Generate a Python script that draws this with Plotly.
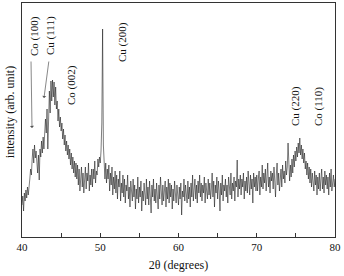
import plotly.graph_objects as go

two_theta_start = 40.0
two_theta_step = 0.1

# intensity (arb. unit), 10 points per degree
intensity = [
    32, 41, 26, 44, 36, 47, 39, 50, 42, 55,      # 40
    58, 68, 62, 78, 88, 74, 92, 79, 86, 75,      # 41
    64, 82, 57, 88, 80, 96, 84, 100, 88, 104,    # 42
    118, 104, 128, 88, 132, 146, 124, 156, 136, 157,  # 43
    140, 155, 132, 150, 128, 136, 116, 128, 110, 120,  # 44
    106, 114, 98, 108, 92, 102, 86, 96, 82, 92,  # 45
    78, 88, 72, 84, 68, 80, 64, 76, 60, 74,      # 46
    58, 72, 52, 68, 46, 62, 70, 50, 64, 44,      # 47
    60, 70, 48, 64, 56, 74, 46, 62, 52, 68,      # 48
    50, 68, 58, 76, 54, 66, 62, 78, 70, 80,      # 49
    74, 86, 114, 208, 92, 70, 58, 74, 54, 68,    # 50
    58, 72, 46, 64, 52, 70, 42, 60, 48, 66,      # 51
    44, 62, 38, 58, 50, 66, 36, 54, 44, 62,      # 52
    40, 58, 34, 52, 46, 62, 38, 50, 30, 56,      # 53
    44, 36, 58, 40, 52, 28, 48, 38, 60, 34,      # 54
    50, 40, 56, 26, 46, 36, 54, 44, 32, 58,      # 55
    38, 50, 32, 56, 44, 24, 52, 40, 58, 36,      # 56
    48, 34, 54, 44, 28, 52, 38, 60, 40, 32,      # 57
    52, 36, 46, 56, 30, 50, 38, 58, 34, 54,      # 58
    40, 52, 28, 48, 36, 56, 44, 34, 52, 38,      # 59
    32, 50, 38, 54, 22, 46, 40, 58, 36, 52,      # 60
    44, 34, 56, 38, 50, 30, 54, 40, 62, 36,      # 61
    48, 58, 38, 52, 34, 56, 44, 62, 40, 54,      # 62
    36, 52, 44, 60, 34, 54, 46, 38, 58, 42,      # 63
    54, 38, 48, 64, 40, 56, 30, 52, 44, 60,      # 64
    38, 56, 46, 26, 54, 42, 62, 36, 52, 46,      # 65
    58, 40, 52, 34, 60, 48, 42, 64, 38, 54,      # 66
    46, 60, 36, 56, 50, 77, 40, 58, 48, 62,      # 67
    42, 58, 50, 64, 38, 56, 46, 60, 44, 66,      # 68
    52, 42, 62, 48, 58, 34, 64, 50, 60, 46,      # 69
    62, 46, 58, 66, 42, 60, 50, 72, 48, 64,      # 70
    54, 68, 46, 62, 74, 50, 60, 44, 66, 56,      # 71
    64, 48, 70, 56, 40, 62, 74, 52, 64, 46,      # 72
    60, 68, 50, 72, 58, 66, 54, 76, 62, 70,      # 73
    94, 62, 56, 72, 60, 78, 64, 82, 70, 86,      # 74
    76, 90, 80, 94, 84, 99, 82, 92, 78, 88,      # 75
    74, 84, 68, 76, 62, 74, 58, 70, 54, 68,      # 76
    50, 64, 56, 46, 66, 52, 62, 42, 60, 48,      # 77
    64, 46, 58, 68, 48, 60, 44, 66, 52, 62,      # 78
    48, 60, 42, 64, 50, 68, 46, 58, 62, 50,      # 79
    58,                                          # 80
]
two_theta = [round(two_theta_start + i * two_theta_step, 2) for i in range(len(intensity))]

peak_labels = ["Co (100)", "Cu (111)", "Co (002)", "Cu (200)", "Cu (220)", "Co (110)"]
peak_label_x = [41.53, 43.58, 46.26, 52.78, 74.89, 77.83]
peak_label_y = [201, 201, 152, 195, 131, 130]

arrow_tail_x = [41.15, 43.45]
arrow_tail_y = [177, 177]
arrow_head_x = [41.28, 42.81]
arrow_head_y = [109, 139]

x_ticks = [40, 50, 60, 70, 80]

FONT = "Liberation Serif, Times New Roman, serif"

fig = go.Figure()
fig.add_trace(go.Scatter(
    x=two_theta, y=intensity, mode="lines",
    line=dict(color="#111111", width=0.55),
    showlegend=False, hoverinfo="skip",
))

for t, x, y in zip(peak_labels, peak_label_x, peak_label_y):
    fig.add_annotation(x=x, y=y, text=t, textangle=-90, showarrow=False,
                       font=dict(family=FONT, size=11, color="#111111"))

for tx, ty, hx, hy in zip(arrow_tail_x, arrow_tail_y, arrow_head_x, arrow_head_y):
    fig.add_annotation(x=hx, y=hy, ax=tx, ay=ty, axref="x", ayref="y",
                       text="", showarrow=True, arrowhead=1, arrowsize=1,
                       arrowwidth=0.7, arrowcolor="#555555")

# y-axis title placed as a free annotation (slightly above plot centre, as in the reference)
fig.add_annotation(xref="paper", yref="paper", x=-0.038, y=0.534,
                   text="intensity (arb. unit)", textangle=-90, showarrow=False,
                   xanchor="center", yanchor="middle",
                   font=dict(family=FONT, size=12, color="#111111"))

fig.update_layout(
    width=344, height=276,
    margin=dict(l=22, r=9, t=3, b=39),
    paper_bgcolor="white", plot_bgcolor="white",
    font=dict(family=FONT, size=11, color="#111111"),
    xaxis=dict(
        range=[40, 80], tickvals=x_ticks, ticks="inside", ticklen=4,
        tickcolor="#333333", showgrid=False, zeroline=False,
        showline=True, linecolor="#333333", linewidth=1, mirror=True,
        minor=dict(dtick=5, ticks="inside", ticklen=4, tickcolor="#333333"),
        title=dict(text="2θ (degrees)", font=dict(family=FONT, size=12), standoff=8),
        tickfont=dict(family=FONT, size=11),
    ),
    yaxis=dict(
        range=[0, 234], showticklabels=False, ticks="", showgrid=False,
        zeroline=False, showline=True, linecolor="#333333", linewidth=1, mirror=True,
    ),
)

fig.write_html("out.html")
